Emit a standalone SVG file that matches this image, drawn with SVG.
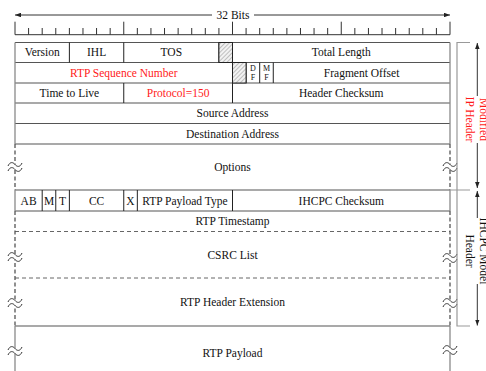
<svg xmlns="http://www.w3.org/2000/svg" xmlns:xlink="http://www.w3.org/1999/xlink" width="486" height="371" viewBox="0 0 486 371">
  <style>
    text { font-family: "Liberation Serif", "Times New Roman", serif; font-size: 11.5px; fill: #111; text-anchor: middle; }
    .red { fill: #ff1a1a; }
    .small { font-size: 8px; }
    .hl { stroke: #555; stroke-width: 1.1; fill: none; }
    .vl { stroke: #222; stroke-width: 1; fill: none; }
    .side { stroke: #8a8a8a; stroke-width: 1.3; fill: none; }
    .sidedash { stroke: #555; stroke-width: 1.3; stroke-dasharray: 4 2.5; fill: none; }
    .hdash { stroke: #666; stroke-width: 1; stroke-dasharray: 4 3; fill: none; }
    .tick { stroke: #333; stroke-width: 1; fill: none; }
    .conn { stroke: #333; stroke-width: 1; fill: none; }
    .brace { stroke: #999; stroke-width: 1.2; fill: none; }
    .brk { stroke: #333; stroke-width: 1; fill: none; }
  </style>
  <defs>
    <pattern id="hatch" width="3" height="3" patternUnits="userSpaceOnUse" patternTransform="rotate(45)">
      <rect width="3" height="3" fill="#f2f2f2"/>
      <line x1="0" y1="0" x2="0" y2="3" stroke="#8c8c8c" stroke-width="1"/>
    </pattern>
    <marker id="ah" viewBox="0 0 8 6" refX="8" refY="3" markerWidth="6" markerHeight="4.5" orient="auto-start-reverse" markerUnits="userSpaceOnUse">
      <path d="M0,0 L8,3 L0,6 Z" fill="#222"/>
    </marker>
    <!-- break symbol placed across a vertical edge -->
    <g id="brk">
      <rect x="-7" y="-2.5" width="14" height="5" fill="#fff"/>
      <path class="brk" d="M-7,-1 C-5,-5.5 -2,-5 0,-2.5 S5,0.5 7,-4"/>
      <path class="brk" d="M-7,4 C-5,-0.5 -2,0 0,2.5 S5,5.5 7,1"/>
    </g>
  </defs>

  <rect width="486" height="371" fill="#fff"/>

  <!-- bit ruler -->
  <g id="ruler">
    <path class="tick" d="M15,34.7 H450"/>
    <path class="tick" d="M15,21.7 V34.7 M123.75,21.7 V34.7 M232.5,21.7 V34.7 M341.25,21.7 V34.7 M450,21.7 V34.7"/>
    <path class="tick" d="M28.59,28 V34.7 M42.19,28 V34.7 M55.78,28 V34.7 M69.38,28 V34.7 M82.97,28 V34.7 M96.56,28 V34.7 M110.16,28 V34.7
      M137.34,28 V34.7 M150.94,28 V34.7 M164.53,28 V34.7 M178.13,28 V34.7 M191.72,28 V34.7 M205.31,28 V34.7 M218.91,28 V34.7
      M246.09,28 V34.7 M259.69,28 V34.7 M273.28,28 V34.7 M286.88,28 V34.7 M300.47,28 V34.7 M314.06,28 V34.7 M327.66,28 V34.7
      M354.84,28 V34.7 M368.44,28 V34.7 M382.03,28 V34.7 M395.63,28 V34.7 M409.22,28 V34.7 M422.81,28 V34.7 M436.41,28 V34.7"/>
    <text x="233" y="18.5">32 Bits</text>
  </g>

  <!-- table grid -->
  <g id="grid">
    <!-- row separators -->
    <path class="hl" d="M15,42.5 H450 M15,62.5 H450 M15,83 H450 M15,103 H450 M15,123.5 H450 M15,144 H450 M15,190 H450 M15,211 H450 M15,326 H450"/>
    <path class="hdash" d="M15,231.5 H450 M15,278 H450"/>
    <!-- field dividers -->
    <path class="vl" d="M69.38,42.5 V62.5 M123.75,42.5 V62.5 M218.91,42.5 V62.5 M232.5,42.5 V62.5
      M232.5,62.5 V83 M246.09,62.5 V83 M259.69,62.5 V83 M273.28,62.5 V83
      M123.75,83 V103 M232.5,83 V103
      M42.19,190 V211 M55.78,190 V211 M69.38,190 V211 M123.75,190 V211 M137.34,190 V211 M232.5,190 V211"/>
    <!-- outer edges -->
    <path class="side" d="M15,42.5 V144 M450,42.5 V144 M15,190 V211 M450,190 V211 M15,326 V371 M450,326 V371"/>
    <path class="sidedash" d="M15,144 V190 M450,144 V190 M15,211 V326 M450,211 V326"/>
    <use href="#brk" x="15" y="167"/>
    <use href="#brk" x="450" y="167"/>
    <use href="#brk" x="15" y="257"/>
    <use href="#brk" x="450" y="258"/>
    <use href="#brk" x="15" y="303"/>
    <use href="#brk" x="450" y="303"/>
    <use href="#brk" x="15" y="351"/>
    <use href="#brk" x="450" y="350"/>
  </g>

  <!-- IP header fields -->
  <g id="version"><text x="42.2" y="56.3">Version</text></g>
  <g id="ihl"><text x="96.6" y="56.3">IHL</text></g>
  <g id="tos"><text x="171.3" y="56.3">TOS</text></g>
  <g id="tos-reserved"><rect x="218.91" y="42.5" width="13.59" height="20" fill="url(#hatch)" stroke="#222" stroke-width="1"/></g>
  <g id="total-length"><text x="341.25" y="56.3">Total Length</text></g>

  <g id="rtp-sequence-number"><text class="red" x="123.75" y="76.7">RTP Sequence Number</text></g>
  <g id="flag-reserved"><rect x="232.5" y="62.5" width="13.59" height="20.5" fill="url(#hatch)" stroke="#222" stroke-width="1"/></g>
  <g id="flag-df"><text class="small" x="252.9" y="70.8">D</text><text class="small" x="252.9" y="80.3">F</text></g>
  <g id="flag-mf"><text class="small" x="266.5" y="70.8">M</text><text class="small" x="266.5" y="80.3">F</text></g>
  <g id="fragment-offset"><text x="361.6" y="76.7">Fragment Offset</text></g>

  <g id="time-to-live"><text x="69.4" y="97">Time to Live</text></g>
  <g id="protocol"><text class="red" x="178.1" y="97">Protocol=150</text></g>
  <g id="header-checksum"><text x="341.25" y="97">Header Checksum</text></g>

  <g id="source-address"><text x="232.5" y="117.3">Source Address</text></g>
  <g id="destination-address"><text x="232.5" y="137.8">Destination Address</text></g>
  <g id="options"><text x="232.5" y="171">Options</text></g>

  <!-- IHCPC model header fields -->
  <g id="ab"><text x="28.6" y="204.5">AB</text></g>
  <g id="m"><text x="49" y="204.5">M</text></g>
  <g id="t"><text x="62.6" y="204.5">T</text></g>
  <g id="cc"><text x="96.6" y="204.5">CC</text></g>
  <g id="x"><text x="130.5" y="204.5">X</text></g>
  <g id="rtp-payload-type"><text x="184.9" y="204.5">RTP Payload Type</text></g>
  <g id="ihcpc-checksum"><text x="341.25" y="204.5">IHCPC Checksum</text></g>
  <g id="rtp-timestamp"><text x="232.5" y="225">RTP Timestamp</text></g>
  <g id="csrc-list"><text x="232.5" y="258.7">CSRC List</text></g>
  <g id="rtp-header-extension"><text x="232.5" y="306">RTP Header Extension</text></g>
  <g id="rtp-payload"><text x="232.5" y="357">RTP Payload</text></g>

  <!-- span arrows and braces -->
  <g id="connectors">
    <line class="conn" x1="212" y1="15" x2="15" y2="15" marker-end="url(#ah)"/>
    <line class="conn" x1="254" y1="15" x2="450" y2="15" marker-end="url(#ah)"/>
    <path class="brace" d="M470,42.5 H457 V190 M450,190 H470 M457,190 V326 H470"/>
    <line class="conn" x1="477.3" y1="43" x2="477.3" y2="188" marker-start="url(#ah)" marker-end="url(#ah)"/>
    <line class="conn" x1="477.3" y1="191" x2="477.3" y2="325.5" marker-start="url(#ah)" marker-end="url(#ah)"/>
  </g>

  <!-- side labels -->
  <g id="label-modified-ip-header">
    <rect x="463" y="96" width="23" height="47" fill="#fff"/>
    <g transform="translate(477.3,119.5) rotate(90)">
      <text class="red" x="0" y="-2.5">Modified</text>
      <text class="red" x="0" y="11.8">IP Header</text>
    </g>
  </g>
  <g id="label-ihcpc-model-header">
    <rect x="463" y="218" width="23" height="66" fill="#fff"/>
    <g transform="translate(477.3,251) rotate(90)">
      <text x="0" y="-2.5">IHCPC Model</text>
      <text x="0" y="11.8">Header</text>
    </g>
  </g>
</svg>
